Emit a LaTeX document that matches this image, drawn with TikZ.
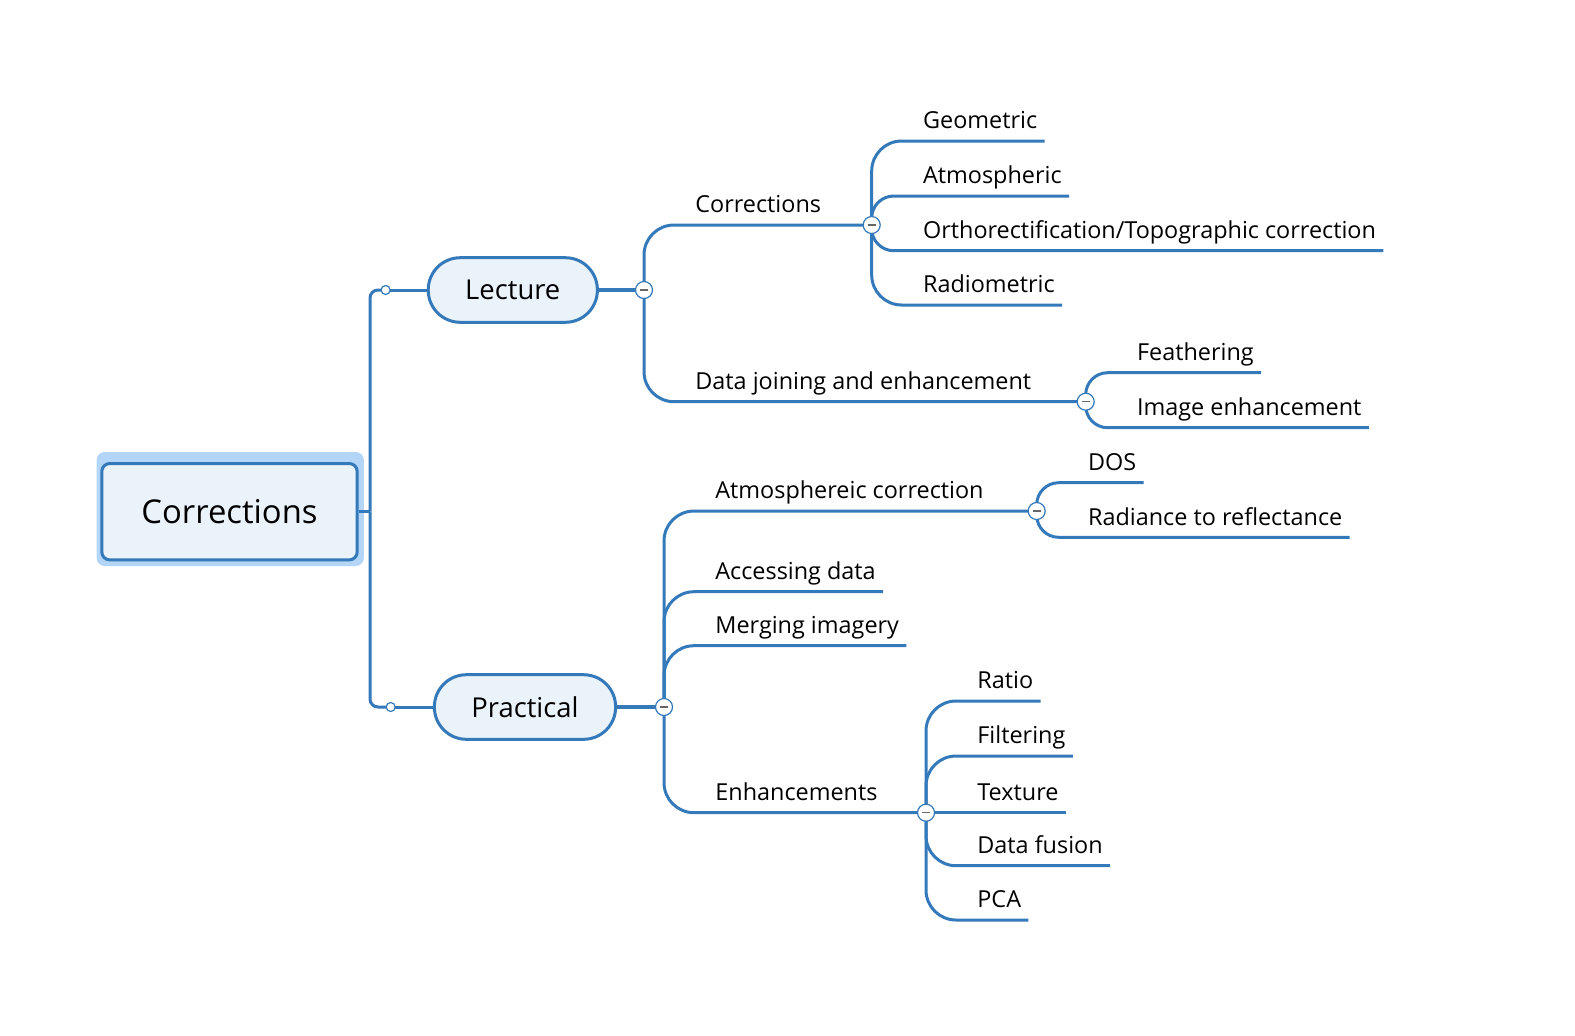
\documentclass[tikz,border=0pt]{standalone}
\usepackage{fontspec}
\setmainfont{Open Sans}
\definecolor{mapblue}{RGB}{52,121,186}
\definecolor{mapfill}{RGB}{234,242,250}
\definecolor{mapglow}{RGB}{179,213,247}
\begin{document}
\begin{tikzpicture}[x=0.5pt,y=-0.5pt,
  stem/.style={draw=mapblue,line width=1.5pt},
  twig/.style={draw=mapblue,line width=1.5pt,rounded corners=15pt},
  twig short/.style={draw=mapblue,line width=1.5pt,rounded corners=11pt},
  glow/.style={fill=mapglow,rounded corners=4pt,minimum width=133.6pt,minimum height=57pt,inner sep=0pt},
  central/.style={draw=mapblue,fill=mapfill,line width=1.5pt,rounded corners=4pt,minimum width=127.7pt,minimum height=48.2pt,font=\fontsize{16.4}{20}\selectfont},
  topic/.style={draw=mapblue,fill=mapfill,line width=1.5pt,rounded corners=16pt,inner xsep=18.5pt,minimum height=32.3pt,font=\fontsize{13.7}{16}\selectfont},
  leaf/.style={anchor=south west,inner xsep=3.5pt,inner ysep=3pt,text depth=2.9pt,font=\fontsize{11.7}{14}\selectfont},
  fold/.style={circle,draw=mapblue,line width=0.6pt,fill=white,minimum size=8.5pt,inner sep=0pt,
    path picture={\draw[black!60,line width=0.6pt] ([xshift=-2pt]path picture bounding box.center) -- ([xshift=2pt]path picture bounding box.center);}},
  knob/.style={circle,draw=mapblue,line width=0.6pt,fill=white,minimum size=4.5pt,inner sep=0pt}]
\useasboundingbox (0,0) rectangle (1575,1035);
\coordinate (T) at (370,511.7);
\coordinate (dL) at (385.6,290);
\coordinate (dP) at (390.7,707);
\coordinate (fL) at (644,290);
\coordinate (fP) at (664,707);
\coordinate (fC) at (871.7,225);
\coordinate (fD) at (1085.7,401.7);
\coordinate (fA) at (1036.7,511);
\coordinate (fE) at (926,812.7);
% main topics
\node[glow] (rootglow) at (230.2,509) {};
\node[central] (root) at (229.5,511.7) {Corrections};
\node[topic] (lec) at (512.8,290) {Lecture};
\node[topic] (pra) at (525,707) {Practical};
% Lecture side
\node[leaf] (cor) at (688,225) {Corrections};
\node[leaf] (dat) at (688,401.7) {Data joining and enhancement};
\node[leaf] (geo) at (915.7,141) {Geometric};
\node[leaf] (atm) at (915.7,196) {Atmospheric};
\node[leaf] (ort) at (915.7,250.7) {Orthorectification/Topographic correction};
\node[leaf] (rad) at (915.7,305) {Radiometric};
\node[leaf] (fea) at (1129.7,372.7) {Feathering};
\node[leaf] (ime) at (1129.7,427.7) {Image enhancement};
% Practical side
\node[leaf] (acr) at (708,511) {Atmosphereic correction};
\node[leaf] (acc) at (708,591.7) {Accessing data};
\node[leaf] (mer) at (708,645.7) {Merging imagery};
\node[leaf] (enh) at (708,812.7) {Enhancements};
\node[leaf] (dos) at (1080.7,482.7) {DOS};
\node[leaf] (r2r) at (1080.7,537.3) {Radiance to reflectance};
\node[leaf] (rat) at (970,701) {Ratio};
\node[leaf] (fil) at (970,756) {Filtering};
\node[leaf] (tex) at (970,812.7) {Texture};
\node[leaf] (fus) at (970,865.7) {Data fusion};
\node[leaf] (pca) at (970,920) {PCA};
% connectors
\draw[stem] (root.east) -- (T);
\draw[stem,rounded corners=4pt] (T) |- (dL);
\draw[stem,rounded corners=4pt] (T) |- (dP);
\draw[stem] (dL) -- (lec.west);
\draw[stem] (dP) -- (pra.west);
\draw[stem,line width=2pt] (lec.east) -- (fL);
\draw[stem,line width=1.8pt] (pra.east) -- (fP);
\draw[twig] (fL) |- (fC);
\draw[twig] (fL) |- (fD);
\draw[twig] (fC) |- (geo.south east);
\draw[twig short] (fC) |- (atm.south east);
\draw[twig short] (fC) |- (ort.south east);
\draw[twig] (fC) |- (rad.south east);
\draw[twig short] (fD) |- (fea.south east);
\draw[twig short] (fD) |- (ime.south east);
\draw[twig] (fP) |- (fA);
\draw[twig] (fP) |- (acc.south east);
\draw[twig] (fP) |- (mer.south east);
\draw[twig] (fP) |- (fE);
\draw[twig short] (fA) |- (dos.south east);
\draw[twig short] (fA) |- (r2r.south east);
\draw[twig] (fE) |- (rat.south east);
\draw[twig] (fE) |- (fil.south east);
\draw[stem] (fE) -- (tex.south east);
\draw[twig] (fE) |- (fus.south east);
\draw[twig] (fE) |- (pca.south east);
% fold buttons
\node[knob] (kL) at (dL) {};
\node[knob] (kP) at (dP) {};
\node[fold] (bL) at (fL) {};
\node[fold] (bP) at (fP) {};
\node[fold] (bC) at (fC) {};
\node[fold] (bD) at (fD) {};
\node[fold] (bA) at (fA) {};
\node[fold] (bE) at (fE) {};
\end{tikzpicture}
\end{document}
